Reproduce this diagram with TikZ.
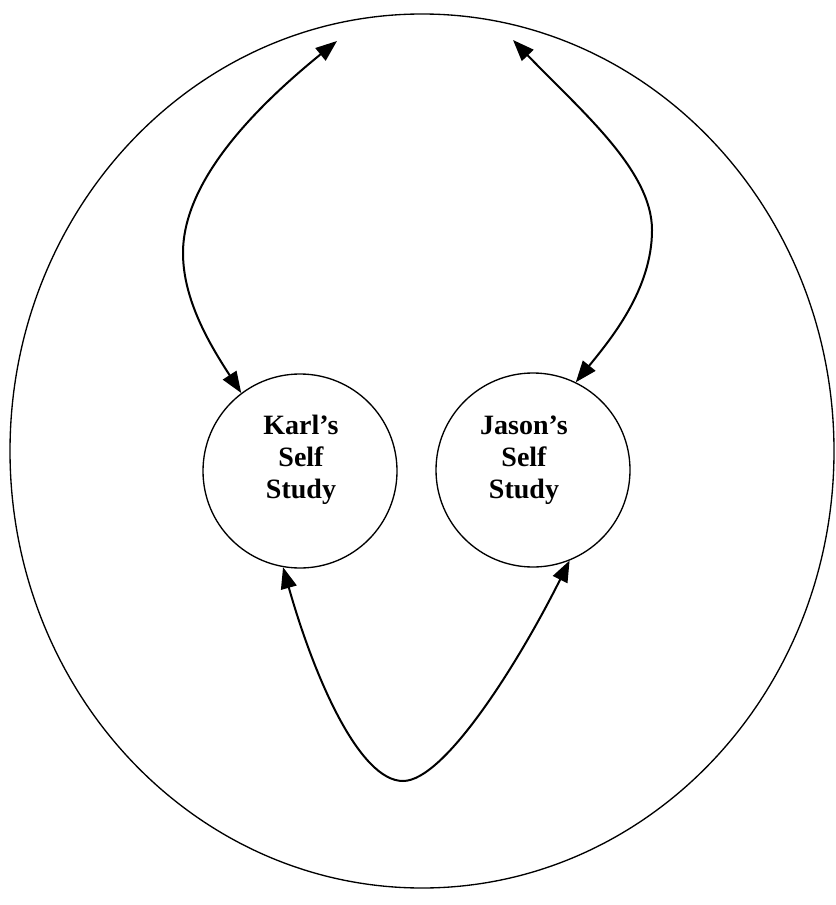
\documentclass[tikz,border=0pt]{standalone}
\usepackage{fontspec}
\setmainfont{Liberation Serif}
\usetikzlibrary{arrows.meta,shapes.geometric}
\begin{document}
\begin{tikzpicture}[x=0.75pt, y=-0.75pt,
        selfcircle/.style={draw, circle, line width=1pt, minimum size=145.5pt, inner sep=0pt},
        selftext/.style={align=center, font=\fontsize{21}{24}\selectfont\bfseries},
        link/.style={arrows={Triangle[length=16pt, width=12pt]-Triangle[length=16pt, width=12pt]}, line width=1.5pt}]
    \useasboundingbox (0,0) rectangle (835,905);

    \node[draw, ellipse, line width=1pt, minimum width=618pt, minimum height=655.5pt] (world) at (422,451) {};
    \node[selfcircle] (karl) at (300,471) {};
    \node[selfcircle] (jason) at (533,470) {};
    \node[selftext] (karltext) at (301,460) {Karl's\\Self\\Study};
    \node[selftext] (jasontext) at (524,460) {Jason's\\Self\\Study};

    \coordinate (karltop) at (337,41);
    \coordinate (jasontop) at (513,40);
    \coordinate (bottom) at (403,781);

    \draw[link] (karltop) .. controls (257,106) and (183,180) .. (183,253)
        .. controls (183,300) and (210,345) .. (karl.127);
    \draw[link] (jasontop) .. controls (580,110) and (652,170) .. (652,230)
        .. controls (652,290) and (610,340) .. (jason.64);
    \draw[link] (karl.260) .. controls (315,680) and (360,781) .. (bottom)
        .. controls (445,781) and (520,660) .. (jason.292);
\end{tikzpicture}
\end{document}
